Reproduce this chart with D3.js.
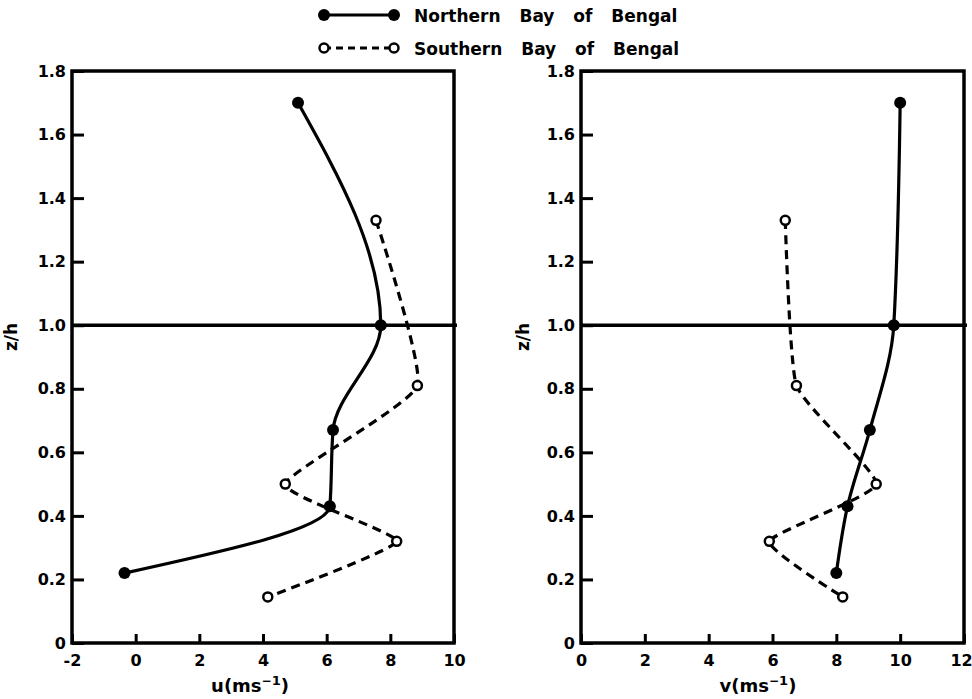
<!DOCTYPE html>
<html>
<head>
<meta charset="utf-8">
<script src="https://cdn.jsdelivr.net/npm/d3@7"></script>
<style>
  body { margin: 0; background: #fff; }
  svg text { font-family: "DejaVu Sans", sans-serif; font-weight: bold; fill: #000; }
</style>
</head>
<body>
<svg width="972" height="699"></svg>
<script>
// values
const zNorth = [1.70, 1.00, 0.67, 0.43, 0.22];
const uNorth = [5.1, 7.7, 6.2, 6.1, -0.35];
const vNorth = [10.0, 9.8, 9.05, 8.35, 8.0];

const zSouth = [1.33, 0.81, 0.50, 0.32, 0.145];
const uSouth = [7.55, 8.85, 4.7, 8.2, 4.15];
const vSouth = [6.4, 6.75, 9.25, 5.9, 8.2];

const zTicks = [0, 0.2, 0.4, 0.6, 0.8, 1.0, 1.2, 1.4, 1.6, 1.8];
const uTicks = [-2, 0, 2, 4, 6, 8, 10];
const vTicks = [0, 2, 4, 6, 8, 10, 12];

const seriesNames = ['Northern Bay of Bengal', 'Southern Bay of Bengal'];

const svg = d3.select('svg');

const yScale = d3.scaleLinear().domain([0, 1.8]).range([643, 71]);

const panels = [
    { key: 'u', x: d3.scaleLinear().domain([-2, 10]).range([72, 454]), ticks: uTicks,
      north: uNorth, south: uSouth, ylabX: 17, xlabX: 250 },
    { key: 'v', x: d3.scaleLinear().domain([0, 12]).range([581, 964]), ticks: vTicks,
      north: vNorth, south: vSouth, ylabX: 529, xlabX: 758 }
];

// profiles are x as a function of height, so the solid one is monotone in y
const solidLine = d3.line().curve(d3.curveMonotoneY);
const dashLine = d3.line().curve(d3.curveCardinal.tension(0.55));

panels.forEach(p => {
    const xs = p.x;
    const [x0, x1] = xs.range();
    const g = svg.append('g');

    // frame
    g.append('rect')
        .attr('x', x0).attr('y', yScale(1.8))
        .attr('width', x1 - x0).attr('height', yScale(0) - yScale(1.8))
        .attr('fill', 'none').attr('stroke', '#000').attr('stroke-width', 3.5);

    // z/h = 1 line
    g.append('line')
        .attr('x1', x0).attr('x2', x1 + 3)
        .attr('y1', yScale(1)).attr('y2', yScale(1))
        .attr('stroke', '#000').attr('stroke-width', 3.5);

    const yAxis = g.append('g')
        .attr('transform', `translate(${x0},0)`)
        .call(d3.axisLeft(yScale).tickValues(zTicks).tickSize(-12).tickPadding(6)
            .tickFormat(d => d === 0 ? '0' : d3.format('.1f')(d)));
    const xAxis = g.append('g')
        .attr('transform', `translate(0,${yScale(0)})`)
        .call(d3.axisBottom(xs).tickValues(p.ticks).tickSize(-9).tickPadding(12)
            .tickFormat(d => d < 0 ? '-' + Math.abs(d) : String(d)));

    [yAxis, xAxis].forEach(a => {
        a.select('.domain').remove();
        a.selectAll('line').attr('stroke', '#000').attr('stroke-width', 3);
        a.selectAll('text').style('font-size', '16px');
    });
    // keep the last x label inside the page
    xAxis.selectAll('.tick:last-of-type text').attr('dx', p.key === 'v' ? -3 : 0);

    // axis titles
    g.append('text')
        .attr('transform', `translate(${p.ylabX},337) rotate(-90)`)
        .attr('text-anchor', 'middle')
        .style('font-size', '17px')
        .text('z/h');

    const t = g.append('text')
        .attr('x', p.xlabX).attr('y', 692)
        .attr('text-anchor', 'middle')
        .style('font-size', '18px');
    t.append('tspan').text(p.key + '(ms');
    t.append('tspan').attr('dy', -7).style('font-size', '12px').text('\u2212');
    t.append('tspan').attr('dy', 0).style('font-size', '13px').text('1');
    t.append('tspan').attr('dy', 7).text(')');

    // northern: solid with filled dots
    const north = zNorth.map((z, i) => [xs(p.north[i]), yScale(z)]);
    g.append('path').attr('d', solidLine(north))
        .attr('fill', 'none').attr('stroke', '#000').attr('stroke-width', 3.2);
    g.selectAll('.nd').data(north).enter().append('circle')
        .attr('cx', d => d[0]).attr('cy', d => d[1]).attr('r', 6).attr('fill', '#000');

    // southern: dashed with open dots
    const south = zSouth.map((z, i) => [xs(p.south[i]), yScale(z)]);
    g.append('path').attr('d', dashLine(south))
        .attr('fill', 'none').attr('stroke', '#000').attr('stroke-width', 3.2)
        .attr('stroke-dasharray', '9,6');
    g.selectAll('.sd').data(south).enter().append('circle')
        .attr('cx', d => d[0]).attr('cy', d => d[1]).attr('r', 4.5)
        .attr('fill', '#fff').attr('stroke', '#000').attr('stroke-width', 2.5);
});

// legend
const legend = svg.append('g');
seriesNames.forEach((name, i) => {
    const y = i === 0 ? 15 : 48;
    legend.append('line')
        .attr('x1', 324).attr('x2', 394).attr('y1', y).attr('y2', y)
        .attr('stroke', '#000').attr('stroke-width', 3)
        .attr('stroke-dasharray', i === 0 ? null : '7,5');
    [324, 394].forEach(cx => {
        legend.append('circle')
            .attr('cx', cx).attr('cy', y).attr('r', i === 0 ? 6 : 4.5)
            .attr('fill', i === 0 ? '#000' : '#fff')
            .attr('stroke', '#000').attr('stroke-width', i === 0 ? 0 : 2.5);
    });
    legend.append('text')
        .attr('x', 414).attr('y', y + 7)
        .style('font-size', '17px')
        .style('word-spacing', '13px')
        .text(name);
});
</script>
</body>
</html>
